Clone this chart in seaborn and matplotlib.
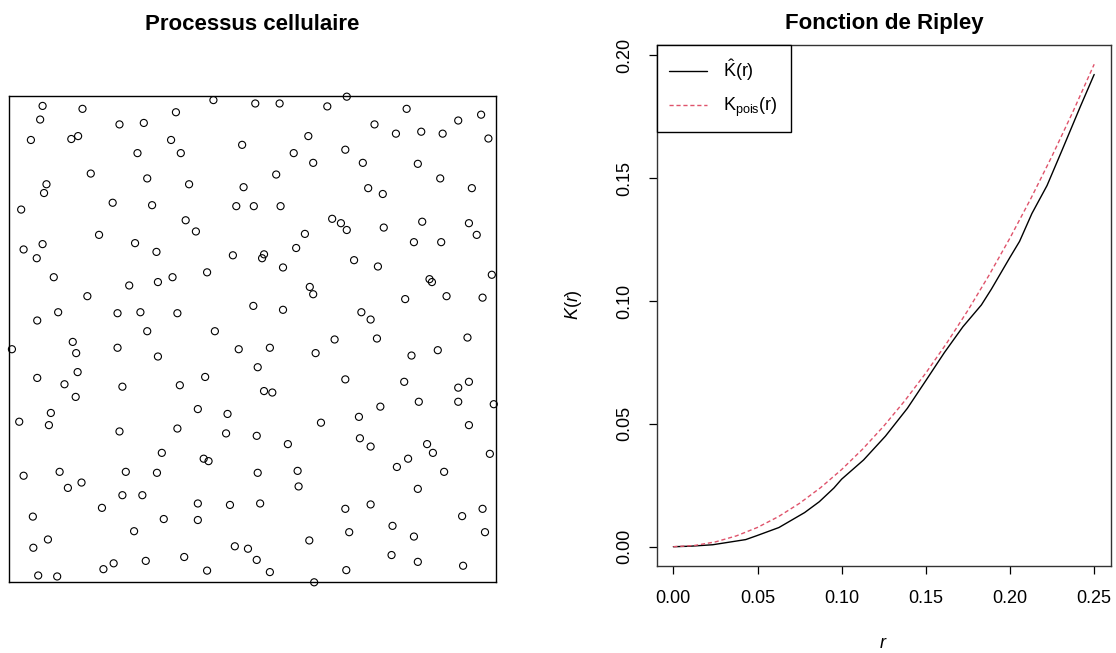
import matplotlib
matplotlib.use("Agg")
import matplotlib.pyplot as plt
import seaborn as sns
import numpy as np
import pandas as pd

# ---- Left panel: point pattern in the unit square ----
pts_x = [0.069, 0.151, 0.064, 0.343, 0.420, 0.506, 0.227, 0.277, 0.045, 0.128, 0.142, 0.333, 0.264, 0.353, 0.479,
         0.168, 0.284, 0.077, 0.072, 0.370, 0.482, 0.025, 0.213, 0.294, 0.467, 0.503, 0.363, 0.384, 0.185, 0.259,
         0.069, 0.030, 0.303, 0.460, 0.057,
         0.556, 0.654, 0.694, 0.817, 0.970, 0.923, 0.751, 0.795, 0.847, 0.891, 0.985, 0.615, 0.585, 0.691, 0.625,
         0.727, 0.840, 0.549, 0.886, 0.951, 0.738, 0.768, 0.558, 0.664, 0.682, 0.694, 0.770, 0.849, 0.945, 0.961,
         0.608, 0.590, 0.832, 0.888,
         0.092, 0.247, 0.306, 0.336, 0.407, 0.161, 0.101, 0.058, 0.223, 0.270, 0.346, 0.502, 0.284, 0.423, 0.131,
         0.138, 0.006, 0.223, 0.306, 0.472, 0.141, 0.511, 0.058, 0.114, 0.233, 0.351, 0.403, 0.137, 0.086, 0.388,
         0.449,
         0.524, 0.520, 0.709, 0.758, 0.563, 0.864, 0.869, 0.992, 0.618, 0.625, 0.814, 0.899, 0.973, 0.563, 0.724,
         0.743, 0.669, 0.756, 0.942, 0.536, 0.630, 0.827, 0.881, 0.691, 0.812, 0.923, 0.945, 0.524, 0.541, 0.763,
         0.842, 0.923, 0.996,
         0.021, 0.082, 0.227, 0.346, 0.446, 0.314, 0.400, 0.410, 0.030, 0.104, 0.240, 0.304, 0.121, 0.149, 0.233,
         0.274, 0.191, 0.388, 0.454, 0.049, 0.318, 0.388, 0.257, 0.080, 0.050, 0.464, 0.491, 0.360, 0.281, 0.215,
         0.194, 0.407, 0.060, 0.099,
         0.509, 0.641, 0.719, 0.945, 0.573, 0.721, 0.743, 0.859, 0.871, 0.988, 0.820, 0.797, 0.894, 0.511, 0.593,
         0.595, 0.840, 0.516, 0.691, 0.743, 0.931, 0.973, 0.788, 0.699, 0.832, 0.978, 0.617, 0.509, 0.536, 0.786,
         0.840, 0.933, 0.693, 0.627]
pts_y = [0.979, 0.973, 0.951, 0.966, 0.991, 0.984, 0.941, 0.944, 0.909, 0.911, 0.917, 0.909, 0.882, 0.882, 0.899,
         0.840, 0.830, 0.818, 0.800, 0.818, 0.812, 0.766, 0.780, 0.775, 0.773, 0.773, 0.744, 0.721, 0.714, 0.697,
         0.695, 0.684, 0.679, 0.672, 0.666,
         0.984, 0.978, 0.998, 0.973, 0.961, 0.949, 0.941, 0.922, 0.926, 0.922, 0.912, 0.917, 0.882, 0.889, 0.862,
         0.862, 0.860, 0.838, 0.830, 0.810, 0.810, 0.798, 0.773, 0.747, 0.738, 0.724, 0.729, 0.741, 0.738, 0.714,
         0.716, 0.687, 0.699, 0.699,
         0.627, 0.610, 0.617, 0.627, 0.637, 0.588, 0.555, 0.538, 0.553, 0.555, 0.553, 0.568, 0.516, 0.516, 0.494,
         0.471, 0.479, 0.482, 0.464, 0.479, 0.432, 0.442, 0.420, 0.407, 0.402, 0.405, 0.422, 0.381, 0.348, 0.356,
         0.346,
         0.674, 0.666, 0.662, 0.649, 0.647, 0.623, 0.617, 0.632, 0.607, 0.592, 0.582, 0.588, 0.585, 0.560, 0.555,
         0.540, 0.499, 0.501, 0.503, 0.482, 0.471, 0.466, 0.477, 0.417, 0.412, 0.400, 0.412, 0.393, 0.390, 0.361,
         0.371, 0.371, 0.366,
         0.330, 0.323, 0.310, 0.316, 0.306, 0.266, 0.254, 0.249, 0.219, 0.227, 0.227, 0.225, 0.194, 0.205, 0.179,
         0.179, 0.153, 0.162, 0.159, 0.135, 0.130, 0.128, 0.105, 0.088, 0.071, 0.074, 0.069, 0.052, 0.044, 0.039,
         0.027, 0.024, 0.014, 0.012,
         0.301, 0.328, 0.340, 0.323, 0.284, 0.296, 0.279, 0.284, 0.266, 0.264, 0.254, 0.237, 0.227, 0.225, 0.229,
         0.197, 0.192, 0.162, 0.151, 0.160, 0.136, 0.151, 0.116, 0.103, 0.094, 0.103, 0.086, 0.046, 0.021, 0.056,
         0.042, 0.034, 0.025, 0.000]

# ---- Right panel: Ripley K function ----
r_obs = [0.0, 0.010, 0.0234, 0.043, 0.0496, 0.0627, 0.078, 0.0867, 0.0954, 0.100, 0.113, 0.126, 0.139, 0.150,
         0.161, 0.172, 0.183, 0.189, 0.200, 0.2057, 0.213, 0.222, 0.231, 0.2417, 0.250]
k_obs = [0.0, 0.0002, 0.0008, 0.0029, 0.0045, 0.0078, 0.0139, 0.0183, 0.0239, 0.0275, 0.0353, 0.0450, 0.0563,
         0.0676, 0.0790, 0.0895, 0.0984, 0.1049, 0.1178, 0.1243, 0.1356, 0.1470, 0.1615, 0.1790, 0.1922]
r_pois = [0.0, 0.0125, 0.025, 0.0375, 0.05, 0.0625, 0.075, 0.0875, 0.1, 0.1125, 0.125, 0.1375, 0.15, 0.1625,
          0.175, 0.1875, 0.2, 0.2125, 0.225, 0.2375, 0.25]
k_pois = [0.0, 0.00049, 0.00196, 0.00442, 0.00785, 0.01227, 0.01767, 0.02405, 0.03142, 0.03976, 0.04909,
          0.0594, 0.07069, 0.08296, 0.09621, 0.11045, 0.12566, 0.14186, 0.15904, 0.17721, 0.19635]
xticks = [0.00, 0.05, 0.10, 0.15, 0.20, 0.25]
yticks = [0.00, 0.05, 0.10, 0.15, 0.20]

sns.set_style("white")
plt.rcParams['font.family'] = ['Liberation Sans', 'DejaVu Sans']
plt.rcParams['mathtext.fontset'] = 'custom'
plt.rcParams['mathtext.rm'] = 'Liberation Sans'
plt.rcParams['mathtext.it'] = 'Liberation Sans:italic'
plt.rcParams['mathtext.bf'] = 'Liberation Sans:bold'
for k in ['text.color', 'axes.labelcolor', 'xtick.color', 'ytick.color', 'axes.edgecolor']:
    plt.rcParams[k] = 'black'

W, H = 1116, 653
fig = plt.figure(figsize=(W / 100, H / 100), dpi=100)

def box(x0, y0, x1, y1):
    return [x0 / W, 1 - y1 / H, (x1 - x0) / W, (y1 - y0) / H]

ax1 = fig.add_axes(box(9, 95.7, 495.7, 582.3))
df_pts = pd.DataFrame({"x": pts_x, "y": pts_y})
sns.scatterplot(data=df_pts, x="x", y="y", ax=ax1, s=26, marker="o", legend=False)
coll = ax1.collections[-1]
coll.set_facecolor("none")
coll.set_edgecolor("black")
coll.set_linewidth(0.8)
coll.set_clip_on(False)
ax1.set_xlim(0, 1)
ax1.set_ylim(0, 1)
ax1.set_xticks([])
ax1.set_yticks([])
ax1.set_xlabel("")
ax1.set_ylabel("")
for sp in ax1.spines.values():
    sp.set_visible(True)
    sp.set_color("black")
    sp.set_linewidth(1.0)

ax2 = fig.add_axes(box(656.5, 45, 1111, 566))
df_obs = pd.DataFrame({"r": r_obs, "K": k_obs})
df_pois = pd.DataFrame({"r": r_pois, "K": k_pois})
sns.lineplot(data=df_obs, x="r", y="K", ax=ax2, color="black", linewidth=1.0,
             label=r"$\hat{\mathrm{K}}(\mathrm{r})$")
sns.lineplot(data=df_pois, x="r", y="K", ax=ax2, color="#DF536B", linewidth=1.0,
             linestyle=(0, (3, 2)), label=r"$\mathrm{K}_{\mathrm{pois}}(\mathrm{r})$")
ax2.set_xlim(-0.01, 0.26)
ax2.set_ylim(-0.00785, 0.2042)
ax2.set_xticks(xticks)
ax2.set_xticklabels([f"{v:.2f}" for v in xticks])
ax2.set_yticks(yticks)
ax2.set_yticklabels([f"{v:.2f}" for v in yticks], rotation=90, va="center")
ax2.tick_params(axis="both", direction="out", length=6, width=0.9, color="black",
                labelcolor="black", labelsize=13, left=True, bottom=True)
ax2.tick_params(axis="x", pad=11)
ax2.tick_params(axis="y", pad=11)
ax2.set_xlabel("")
ax2.set_ylabel("")
for sp in ax2.spines.values():
    sp.set_visible(True)
    sp.set_color("#333333")
    sp.set_linewidth(1.0)

leg = ax2.legend(loc="upper left", bbox_to_anchor=(0, 1), borderaxespad=0, frameon=True,
                 fancybox=False, framealpha=1, edgecolor="black", fontsize=13,
                 handlelength=2.1, handletextpad=0.9, borderpad=0.7, labelspacing=0.7)
leg.get_frame().set_linewidth(1.0)
for t in leg.get_texts():
    t.set_color("black")

fig.text(252 / W, 1 - 24 / H, "Processus cellulaire", ha="center", va="center",
         fontsize=16, fontweight="bold", color="black")
fig.text(884 / W, 1 - 24 / H, "Fonction de Ripley", ha="center", va="center",
         fontsize=16, fontweight="bold", color="black")
fig.text(573 / W, 1 - 305 / H, r"$K(r)$", rotation=90, ha="center", va="center",
         fontsize=13, color="black")
fig.text(883 / W, 1 - 643 / H, r"$r$", ha="center", va="center", fontsize=13, color="black")

fig.savefig("out.png", dpi=100)
